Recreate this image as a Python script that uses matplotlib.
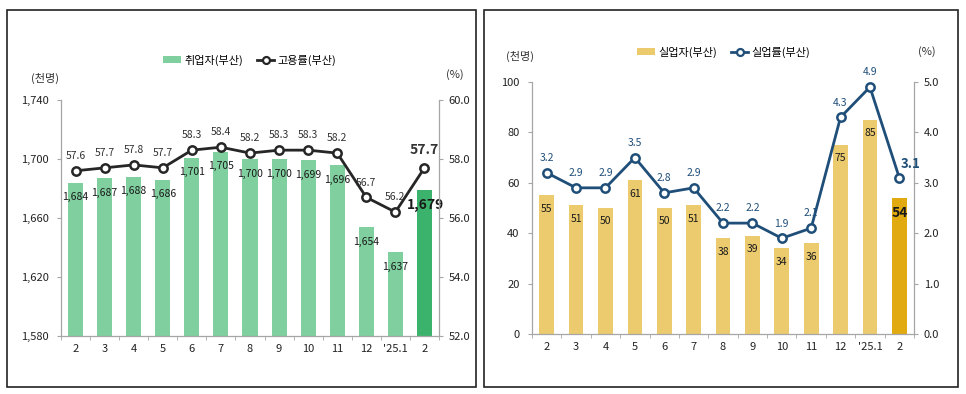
import matplotlib
matplotlib.use("Agg")
import matplotlib.pyplot as plt
from matplotlib.patches import Rectangle, Patch
from matplotlib.lines import Line2D
import numpy as np

plt.rcParams['font.family'] = ['Noto Sans CJK KR', 'DejaVu Sans']

categories = ['2', '3', '4', '5', '6', '7', '8', '9', '10', '11', '12', "'25.1", '2']
employed = [1684, 1687, 1688, 1686, 1701, 1705, 1700, 1700, 1699, 1696, 1654, 1637, 1679]
employment_rate = [57.6, 57.7, 57.8, 57.7, 58.3, 58.4, 58.2, 58.3, 58.3, 58.2, 56.7, 56.2, 57.7]
unemployed = [55, 51, 50, 61, 50, 51, 38, 39, 34, 36, 75, 85, 54]
unemployment_rate = [3.2, 2.9, 2.9, 3.5, 2.8, 2.9, 2.2, 2.2, 1.9, 2.1, 4.3, 4.9, 3.1]

W, H = 966, 394
fig = plt.figure(figsize=(9.66, 3.94), dpi=100)

def fx(px):
    return px / W

def fy(py):
    return 1 - py / H

# panel borders
for x0, x1 in [(7, 476), (484, 958)]:
    fig.patches.append(Rectangle((fx(x0), fy(387)), fx(x1 - x0), (387 - 10) / H,
                                 transform=fig.transFigure, fill=False,
                                 edgecolor='#222222', linewidth=1.2))

GRAY = '#a6a6a6'
x = np.arange(len(categories))


def style_axes(ax, ax2):
    for a in (ax, ax2):
        a.spines['top'].set_visible(False)
        for s in ('left', 'right', 'bottom'):
            a.spines[s].set_color(GRAY)
            a.spines[s].set_linewidth(0.9)
    ax.spines['right'].set_visible(False)
    ax2.spines['left'].set_visible(False)
    ax2.spines['bottom'].set_visible(False)
    ax.set_xlim(-0.5, len(categories) - 0.5)
    ax.set_xticks(x)
    ax.set_xticklabels(categories, fontsize=8, color='#222222')
    ax.tick_params(axis='x', which='major', length=0, pad=6)
    ax.set_xticks(np.arange(-0.5, len(categories), 1.0), minor=True)
    ax.tick_params(axis='x', which='minor', length=3, color=GRAY, direction='out')
    ax.tick_params(axis='y', length=3, color=GRAY, labelsize=8, labelcolor='#222222', pad=6)
    ax2.tick_params(axis='y', length=3, color=GRAY, labelsize=8, labelcolor='#222222', pad=4)


n = len(categories)

# ---------------- left chart ----------------
axL = fig.add_axes([fx(61), fy(336), fx(439 - 61), (336 - 100) / H])
axL2 = axL.twinx()
green = ['#7fcf9f'] * (n - 1) + ['#3cb36c']
axL.bar(x, employed, width=0.52, color=green, zorder=2)
axL.set_ylim(1580, 1740)
axL.set_yticks([1580, 1620, 1660, 1700, 1740])
axL.set_yticklabels([f'{v:,}' for v in [1580, 1620, 1660, 1700, 1740]])
axL2.plot(x, employment_rate, color='#262626', lw=2, marker='o', ms=6,
          mfc='white', mec='#262626', mew=1.8, zorder=5)
axL2.set_ylim(52, 60)
axL2.set_yticks([52, 54, 56, 58, 60])
axL2.set_yticklabels([f'{v:.1f}' for v in [52, 54, 56, 58, 60]])
style_axes(axL, axL2)
axL.set_zorder(1)
axL2.set_zorder(2)
axL.patch.set_visible(False)

for i, v in enumerate(employed):
    last = i == n - 1
    axL.annotate(f'{v:,}', (i, v), xytext=(1 if last else 0, -6 if last else -7),
                 textcoords='offset points',
                 ha='center', va='top', fontsize=10 if last else 7.5,
                 fontweight='bold' if last else 'normal', color='#1a1a1a', zorder=6)
for i, v in enumerate(employment_rate):
    last = i == n - 1
    axL2.annotate(f'{v:.1f}', (i, v), xytext=(0, 7 if not last else 8), textcoords='offset points',
                  ha='center', va='bottom', fontsize=10 if last else 7.5,
                  fontweight='bold' if last else 'normal', color='#333333')

fig.text(fx(45), fy(78), '(천명)', ha='center', va='center', fontsize=8, color='#333333')
fig.text(fx(455), fy(75), '(%)', ha='center', va='center', fontsize=8, color='#333333')

handlesL = [Patch(facecolor='#7fcf9f'),
            Line2D([0], [0], color='#262626', lw=2, marker='o', ms=5, mfc='white', mec='#262626', mew=1.6)]
fig.legend(handlesL, ['취업자(부산)', '고용률(부산)'], loc='center', bbox_to_anchor=(fx(250), fy(60)),
           ncol=2, frameon=False, fontsize=8, handlelength=1.6, handleheight=0.6,
           columnspacing=1.2, handletextpad=0.3)

# ---------------- right chart ----------------
axR = fig.add_axes([fx(532), fy(334), fx(914 - 532), (334 - 82) / H])
axR2 = axR.twinx()
gold = ['#eccb6f'] * (n - 1) + ['#e0aa10']
axR.bar(x, unemployed, width=0.5, color=gold, zorder=2)
axR.set_ylim(0, 100)
axR.set_yticks([0, 20, 40, 60, 80, 100])
axR2.plot(x, unemployment_rate, color='#1f4e79', lw=2, marker='o', ms=6,
          mfc='white', mec='#1f4e79', mew=1.8, zorder=5)
axR2.set_ylim(0, 5)
axR2.set_yticks([0, 1, 2, 3, 4, 5])
axR2.set_yticklabels([f'{v:.1f}' for v in [0, 1, 2, 3, 4, 5]])
style_axes(axR, axR2)
axR.set_zorder(1)
axR2.set_zorder(2)
axR.patch.set_visible(False)

for i, v in enumerate(unemployed):
    last = i == n - 1
    axR.annotate(f'{v}', (i, v), xytext=(0, -6), textcoords='offset points',
                 ha='center', va='top', fontsize=10 if last else 7.5,
                 fontweight='bold' if last else 'normal', color='#1a1a1a')
for i, v in enumerate(unemployment_rate):
    last = i == n - 1
    axR2.annotate(f'{v:.1f}', (i, v), xytext=(8, 5) if last else (0, 7), textcoords='offset points',
                  ha='center', va='bottom', fontsize=9.5 if last else 7.5,
                  fontweight='bold' if last else 'normal', color='#1f4e79')

fig.text(fx(520), fy(56), '(천명)', ha='center', va='center', fontsize=8, color='#333333')
fig.text(fx(927), fy(52), '(%)', ha='center', va='center', fontsize=8, color='#333333')

handlesR = [Patch(facecolor='#eccb6f'),
            Line2D([0], [0], color='#1f4e79', lw=2, marker='o', ms=5, mfc='white', mec='#1f4e79', mew=1.6)]
fig.legend(handlesR, ['실업자(부산)', '실업률(부산)'], loc='center', bbox_to_anchor=(fx(724), fy(52)),
           ncol=2, frameon=False, fontsize=8, handlelength=1.6, handleheight=0.6,
           columnspacing=1.2, handletextpad=0.3)

fig.savefig('out.png', dpi=100)
